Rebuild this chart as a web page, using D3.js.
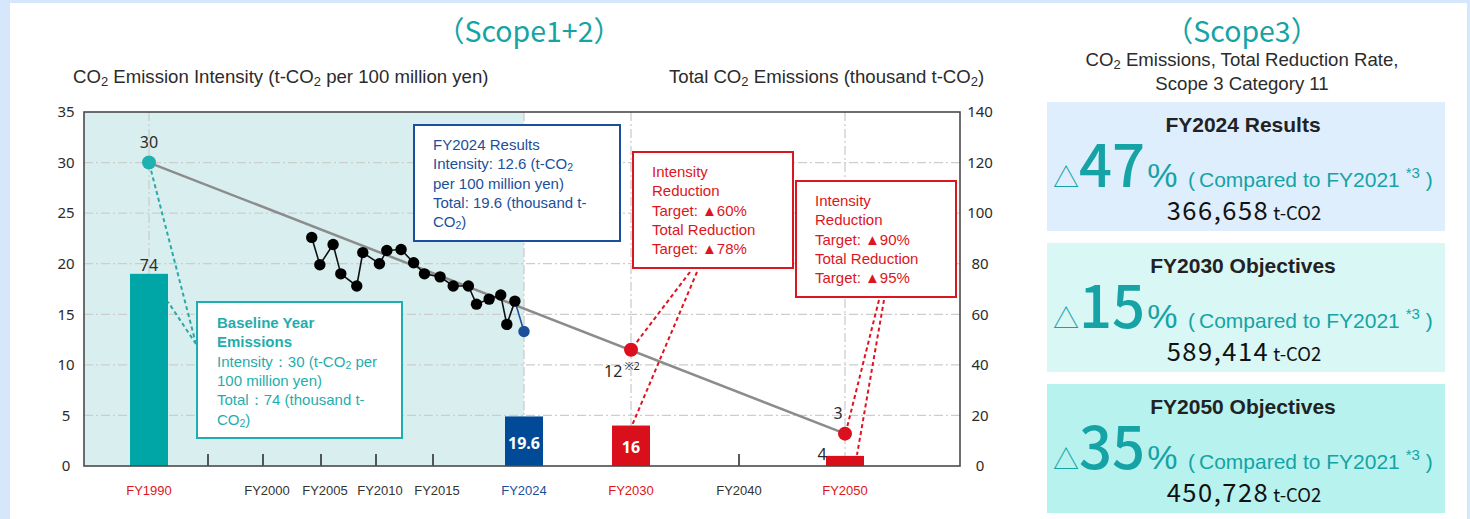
<!DOCTYPE html>
<html>
<head>
<meta charset="utf-8">
<script src="https://cdn.jsdelivr.net/npm/d3@7"></script>
<style>
body { margin: 0; background: #d6e7fb; }
svg { display: block; }
</style>
</head>
<body>
<svg id="chart" width="1470" height="519"></svg>
<script>
// ---- data ----
var axisYears = [1990, 1995, 2000, 2005, 2010, 2015, 2024, 2030, 2040, 2050];
var xLabelYears = [1990, 2000, 2005, 2010, 2015, 2024, 2030, 2040, 2050];
var xLabels = ["FY1990", "FY2000", "FY2005", "FY2010", "FY2015", "FY2024", "FY2030", "FY2040", "FY2050"];
var tickMarkYears = [1995, 2000, 2005, 2010, 2015, 2040];
var leftTicks = [0, 5, 10, 15, 20, 25, 30, 35];
var rightTicks = [0, 20, 40, 60, 80, 100, 120, 140];

var baseYear = 1990, baseIntensity = 30;
var historyYears = [2004.2, 2004.9, 2006.1, 2006.8, 2008.25, 2008.8, 2010.3, 2010.95, 2012.2, 2013.3,
                    2014.25, 2015.7, 2017.0, 2018.5, 2019.3, 2020.55, 2021.7, 2022.3, 2023.1];
var historyIntensity = [22.6, 19.9, 21.9, 19.0, 17.8, 21.1, 20.0, 21.3, 21.4, 20.1,
                        19.0, 18.7, 17.8, 17.8, 16.0, 16.5, 16.9, 14.0, 16.3];
var resultYear = 2024, resultIntensity = 13.3;
var targetYears = [2030, 2050];
var targetIntensity = [11.5, 3.2];

var barYears = [1990, 2024, 2030, 2050];
var barTotals = [76, 19.6, 16, 4];
var barLabels = ["74", "19.6", "16", "4"];

var scope3Titles = ["FY2024 Results", "FY2030 Objectives", "FY2050 Objectives"];
var scope3Rates = ["47", "15", "35"];
var scope3Totals = ["366,658", "589,414", "450,728"];

// ---- styles ----
var teal = "#15a3a5", blue = "#1b4f9c", red = "#dd1521", dark = "#2b2b2b";
var labelColor = {1990: red, 2024: blue, 2030: red, 2050: red};
var barColor = {1990: "#00a5a6", 2024: "#004a98", 2030: "#d90f1c", 2050: "#d90f1c"};
var sans = "'Liberation Sans', Arial, sans-serif";
var tickFont = "'Noto Sans', 'Open Sans', sans-serif";
var jp = "'Noto Sans CJK JP', 'Noto Sans', sans-serif";

var svg = d3.select("#chart");
svg.append("rect").attr("x", 10).attr("y", 3).attr("width", 1457).attr("height", 530)
    .attr("fill", "#fff");

var plot = {left: 84, right: 960, top: 112, bottom: 466};

var x = d3.scaleLinear()
    .domain(axisYears)
    .range([149, 208, 263, 321, 376, 433, 524, 631, 739, 845]);
var yL = d3.scaleLinear().domain([0, 35]).range([plot.bottom, plot.top]);
var yR = d3.scaleLinear().domain([0, 140]).range([plot.bottom, plot.top]);

// results period shading
svg.append("rect")
    .attr("x", plot.left).attr("y", plot.top)
    .attr("width", x(resultYear) - plot.left).attr("height", plot.bottom - plot.top)
    .attr("fill", "#d9eeee");

// grid
svg.append("g").selectAll("line")
    .data(leftTicks.filter(function(d) { return d > 0 && d < 35; }))
    .enter().append("line")
    .attr("x1", plot.left).attr("x2", plot.right)
    .attr("y1", function(d) { return yL(d); }).attr("y2", function(d) { return yL(d); })
    .attr("stroke", "#cdcdcd").attr("stroke-width", 1.3).attr("stroke-dasharray", "9,3,2,3");

svg.append("g").selectAll("line")
    .data(barYears)
    .enter().append("line")
    .attr("x1", function(d) { return x(d); }).attr("x2", function(d) { return x(d); })
    .attr("y1", plot.top).attr("y2", plot.bottom)
    .attr("stroke", "#cdcdcd").attr("stroke-width", 1.3).attr("stroke-dasharray", "9,3,2,3");

// axes
var gl = svg.append("g").attr("transform", "translate(" + plot.left + ",0)")
    .call(d3.axisLeft(yL).tickValues(leftTicks).tickSize(0));
gl.select(".domain").remove();
gl.attr("font-family", tickFont).attr("font-size", 15);
gl.selectAll("text").attr("x", -18).attr("text-anchor", "middle").attr("fill", dark);

var gr = svg.append("g").attr("transform", "translate(" + plot.right + ",0)")
    .call(d3.axisRight(yR).tickValues(rightTicks).tickSize(0));
gr.select(".domain").remove();
gr.attr("font-family", tickFont).attr("font-size", 15);
gr.selectAll("text").attr("x", 20).attr("text-anchor", "middle").attr("fill", dark);

// bottom labels and tick marks
svg.append("g").selectAll("text")
    .data(xLabelYears)
    .enter().append("text")
    .attr("x", function(d) { return x(d) + (d > 1990 && d < 2024 ? 4 : 0); })
    .attr("y", 495)
    .attr("text-anchor", "middle")
    .attr("font-family", sans).attr("font-size", 13)
    .attr("fill", function(d) { return labelColor[d] || "#333"; })
    .text(function(d, i) { return xLabels[i]; });

svg.append("g").selectAll("line")
    .data(tickMarkYears)
    .enter().append("line")
    .attr("x1", function(d) { return x(d); }).attr("x2", function(d) { return x(d); })
    .attr("y1", plot.bottom).attr("y2", plot.bottom - 12)
    .attr("stroke", "#222").attr("stroke-width", 1.5);

// bars (total emissions, right axis)
svg.append("g").selectAll("rect")
    .data(barYears)
    .enter().append("rect")
    .attr("x", function(d) { return x(d) - 19; })
    .attr("width", 38)
    .attr("y", function(d, i) { return yR(barTotals[i]); })
    .attr("height", function(d, i) { return plot.bottom - yR(barTotals[i]); })
    .attr("fill", function(d) { return barColor[d]; });

// frame
svg.append("rect")
    .attr("x", plot.left).attr("y", plot.top)
    .attr("width", plot.right - plot.left).attr("height", plot.bottom - plot.top)
    .attr("fill", "none").attr("stroke", "#4a4a4a").attr("stroke-width", 1.6);

// trend line 1990 -> 2050
var line = d3.line().x(function(d) { return x(d[0]); }).y(function(d) { return yL(d[1]); });
svg.append("path")
    .datum([[baseYear, baseIntensity], [targetYears[1], targetIntensity[1]]])
    .attr("d", line).attr("fill", "none").attr("stroke", "#8c8c8c").attr("stroke-width", 2.5);

// history
var hist = historyYears.map(function(d, i) { return [d, historyIntensity[i]]; });
svg.append("path")
    .datum([hist[hist.length - 1], [resultYear, resultIntensity]])
    .attr("d", line).attr("fill", "none").attr("stroke", blue).attr("stroke-width", 1.6);
svg.append("path")
    .datum(hist).attr("d", line).attr("fill", "none").attr("stroke", "#111").attr("stroke-width", 1.6);
svg.append("g").selectAll("circle")
    .data(hist).enter().append("circle")
    .attr("cx", function(d) { return x(d[0]); }).attr("cy", function(d) { return yL(d[1]); })
    .attr("r", 5.7).attr("fill", "#000");
svg.append("circle")
    .attr("cx", x(resultYear)).attr("cy", yL(resultIntensity)).attr("r", 5.7).attr("fill", blue);

// connectors (dashed)
function connector(x1, y1, x2, y2, color) {
    svg.append("line").attr("x1", x1).attr("y1", y1).attr("x2", x2).attr("y2", y2)
        .attr("stroke", color).attr("stroke-width", 2).attr("stroke-dasharray", "4,3");
}
connector(196, 344, x(baseYear), yL(baseIntensity), "#2aa9a9");
connector(196, 344, x(baseYear) + 19, yR(barTotals[0]) + 28, "#2aa9a9");
connector(690, 272, x(targetYears[0]) + 3, yL(targetIntensity[0]) - 4, red);
connector(697, 272, x(targetYears[0]) + 1, yR(barTotals[2]), red);
connector(879, 300, x(targetYears[1]) + 2, yL(targetIntensity[1]) - 6, red);
connector(884, 300, x(targetYears[1]) + 12, yR(barTotals[3]) - 1, red);

// target & base dots
svg.append("circle").attr("cx", x(baseYear)).attr("cy", yL(baseIntensity)).attr("r", 7).attr("fill", "#1fb1b0");
svg.append("g").selectAll("circle")
    .data(targetYears).enter().append("circle")
    .attr("cx", function(d) { return x(d); })
    .attr("cy", function(d, i) { return yL(targetIntensity[i]); })
    .attr("r", 7).attr("fill", "#dc0f1f");

// value labels
function label(xp, yp, txt, opts) {
    opts = opts || {};
    return svg.append("text").attr("x", xp).attr("y", yp)
        .attr("text-anchor", opts.anchor || "middle")
        .attr("font-family", opts.font || tickFont)
        .attr("font-size", opts.size || 16)
        .attr("font-weight", opts.weight || 400)
        .attr("fill", opts.fill || dark)
        .text(txt);
}
label(x(baseYear), yL(baseIntensity) - 15, String(baseIntensity));
label(x(1990), yR(barTotals[0]) - 3, barLabels[0]);
label(x(2024), 449, barLabels[1], {fill: "#fff", weight: 700, size: 16});
label(x(2030), 453, barLabels[2], {fill: "#fff", weight: 700, size: 16});
label(x(2050) - 23, 460, barLabels[3]);
label(x(2050) - 7, 419, "3");
var t12 = label(x(2030) - 9, 377, "12");
t12.append("tspan").attr("font-size", 11).attr("dy", -7).attr("dx", 2).text("※2");

// annotation boxes
function richLine(t, str) {
    // "_2" becomes a subscript 2
    var parts = str.split(/(_2)/);
    parts.forEach(function(p) {
        if (!p) return;
        if (p === "_2") {
            t.append("tspan").attr("font-size", "0.7em").attr("baseline-shift", "-22%").text("2");
        } else {
            t.append("tspan").text(p);
        }
    });
}
function note(bx, by, bw, bh, color, tx, ty, lines, boldCount) {
    svg.append("rect").attr("x", bx).attr("y", by).attr("width", bw).attr("height", bh)
        .attr("fill", "#fff").attr("stroke", color).attr("stroke-width", 2);
    lines.forEach(function(s, i) {
        var t = svg.append("text").attr("x", tx).attr("y", ty + i * 19.3)
            .attr("font-family", sans).attr("font-size", 15)
            .attr("font-weight", i < (boldCount || 0) ? 700 : 400)
            .attr("fill", color);
        richLine(t, s);
    });
}
note(197, 302, 205, 136, "#1fadad", 217, 328,
     ["Baseline Year", "Emissions", "Intensity\uff1a30 (t-CO_2 per", "100 million yen)",
      "Total\uff1a74 (thousand t-", "CO_2)"], 2);
note(414, 125, 206, 116, blue, 433, 150,
     ["FY2024 Results", "Intensity: 12.6 (t-CO_2", "per 100 million yen)",
      "Total: 19.6 (thousand t-", "CO_2)"], 0);
note(633, 152, 160, 116, red, 652, 177,
     ["Intensity", "Reduction", "Target: \u25b260%", "Total Reduction", "Target: \u25b278%"], 0);
note(796, 181, 160, 116, red, 815, 206,
     ["Intensity", "Reduction", "Target: \u25b290%", "Total Reduction", "Target: \u25b295%"], 0);

// titles
svg.append("text").attr("x", 529).attr("y", 42).attr("text-anchor", "middle")
    .attr("font-family", jp).attr("font-size", 28.5).attr("fill", teal).text("\uff08Scope1+2\uff09");
var ta = svg.append("text").attr("x", 73).attr("y", 83)
    .attr("font-family", sans).attr("font-size", 18.6).attr("fill", dark);
richLine(ta, "CO_2 Emission Intensity (t-CO_2 per 100 million yen)");
var tb = svg.append("text").attr("x", 669).attr("y", 83)
    .attr("font-family", sans).attr("font-size", 18.6).attr("fill", dark);
richLine(tb, "Total CO_2 Emissions (thousand t-CO_2)");

// ---- Scope 3 panel ----
var cx3 = 1246;
svg.append("text").attr("x", cx3 - 4).attr("y", 42).attr("text-anchor", "middle")
    .attr("font-family", jp).attr("font-size", 28.5).attr("fill", teal).text("\uff08Scope3\uff09");
var s1 = svg.append("text").attr("x", cx3 - 4).attr("y", 66).attr("text-anchor", "middle")
    .attr("font-family", sans).attr("font-size", 18.6).attr("fill", dark);
richLine(s1, "CO_2 Emissions, Total Reduction Rate,");
svg.append("text").attr("x", cx3 - 4).attr("y", 90).attr("text-anchor", "middle")
    .attr("font-family", sans).attr("font-size", 18.6).attr("fill", dark).text("Scope 3 Category 11");

var boxTop = [102, 243, 384];
var boxFill = ["#dfeefd", "#d8f7f5", "#b7f2ef"];
scope3Titles.forEach(function(title, i) {
    var y0 = boxTop[i];
    svg.append("rect").attr("x", 1047).attr("y", y0).attr("width", 398).attr("height", 129)
        .attr("fill", boxFill[i]);
    svg.append("text").attr("x", cx3 - 3).attr("y", y0 + 30).attr("text-anchor", "middle")
        .attr("font-family", sans).attr("font-size", 21).attr("font-weight", 700)
        .attr("fill", "#222").text(title);
    // big rate: triangle + number + %
    var big = svg.append("text").attr("x", 1053).attr("y", y0 + 85)
        .attr("fill", teal);
    big.append("tspan").attr("font-family", jp).attr("font-size", 26).text("\u25b3");
    big.append("tspan").attr("font-family", jp).attr("font-size", 58).attr("font-weight", 500)
        .text(scope3Rates[i]);
    big.append("tspan").attr("font-family", sans).attr("font-size", 34).attr("dx", 2).text("%");
    // comparison note
    var cmp = svg.append("text").attr("x", 1188).attr("y", y0 + 85)
        .attr("font-family", sans).attr("font-size", 21).attr("fill", teal);
    cmp.append("tspan").text("(");
    cmp.append("tspan").attr("dx", 4).text("Compared to FY2021 ");
    cmp.append("tspan").attr("font-size", 15).attr("dy", -9).text("*3");
    cmp.append("tspan").attr("dy", 9).text(" )");
    var tot = svg.append("text").attr("x", cx3 - 2).attr("y", y0 + 118).attr("text-anchor", "middle")
        .attr("fill", "#111");
    tot.append("tspan").attr("font-family", jp).attr("font-size", 25.5).attr("letter-spacing", 1.5)
        .text(scope3Totals[i]);
    tot.append("tspan").attr("font-family", jp).attr("font-size", 18.5).attr("dx", 4).text("t-CO2");
});
</script>
</body>
</html>
